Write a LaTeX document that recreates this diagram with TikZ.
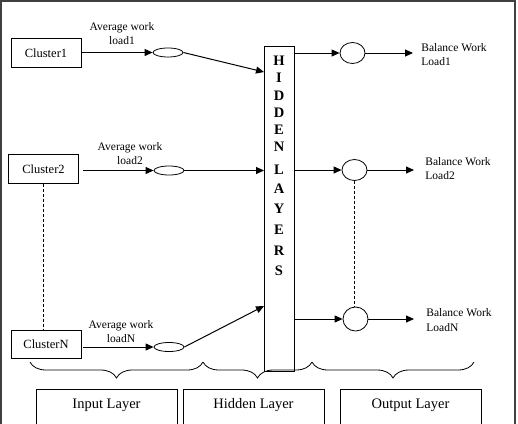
\documentclass[tikz,border=0pt]{standalone}
\usepackage{fontspec}
\setmainfont{Liberation Serif}
\usetikzlibrary{shapes.geometric,arrows.meta,decorations.pathreplacing}
\begin{document}
\begin{tikzpicture}[x=1pt,y=-1pt,line width=0.8pt,
  arr/.style={-{Triangle[length=8pt,width=7pt]},line width=1pt},
  clus/.style={draw,minimum width=70,minimum height=29,inner sep=0,font=\fontsize{12.5}{14}\selectfont},
  ov/.style={draw,ellipse,minimum width=30,minimum height=9,inner sep=0},
  circ/.style={draw,ellipse,minimum width=25,minimum height=21,inner sep=0},
  avg/.style={align=center,inner sep=0,font=\fontsize{11.5}{14}\selectfont},
  bal/.style={align=left,anchor=west,inner sep=0,font=\fontsize{11.5}{14.5}\selectfont},
  dots/.style={dash pattern=on 3pt off 2pt,line width=0.8pt},
  brc/.style={decorate,decoration={brace,mirror,amplitude=16}},
  layer/.style={inner sep=0,font=\fontsize{14.5}{16}\selectfont},
  hl/.style={inner sep=0,font=\bfseries\fontsize{14.5}{16}\selectfont}]
\useasboundingbox (0,0) rectangle (518,423);
\clip (0,0) rectangle (518,423);
% frame
\draw[line width=1.2pt,draw=black!75] (1,430) -- (1,1) -- (515,1) -- (515,430);
% clusters
\node[clus] (c1) at (46,53) {Cluster1};
\node[clus] (c2) at (43.5,169) {Cluster2};
\node[clus,minimum height=28] (cN) at (46,344.5) {ClusterN};
% ellipses
\node[ov] (e1) at (168,52.5) {};
\node[ov] (e2) at (169,170.5) {};
\node[ov] (eN) at (169,347) {};
\draw[arr] (c1.east |- e1) -- (e1.west);
\draw[arr,shorten <=4pt] (c2.east |- e2) -- (e2.west);
\draw[arr,shorten <=2pt] (cN.east |- eN) -- (eN.west);
\node[avg] (a1) at (122,34) {Average work\\load1};
\node[avg] (a2) at (130,153.5) {Average work\\load2};
\node[avg] (aN) at (121,331.5) {Average work\\loadN};
\draw[dots] (c2.south) -- (c2.south |- cN.north);
% hidden
\node[draw,minimum width=30,minimum height=325,inner sep=0] (hid) at (279,208.5) {};
\foreach \l/\y in {H/61,I/78,D/96,D/113,E/130,N/147,L/170,A/189,Y/209,E/230,R/251,S/271}
  \node[hl] (hl\y) at (279,\y) {\l};
\coordinate (h1) at (264,72);
\coordinate (h2) at (264,170.5);
\coordinate (hN) at (264,306);
\draw[arr] (e1.east) -- (h1);
\draw[arr] (e2.east) -- (h2);
\draw[arr] (eN.east) -- (hN);
% outputs
\node[circ] (o1) at (352.5,53) {};
\node[circ] (o2) at (354.5,170) {};
\node[circ,minimum height=24] (oN) at (355.5,319) {};
\draw[arr] (hid.east |- o1) -- (o1.west);
\draw[arr] (hid.east |- o2) -- (o2.west);
\draw[arr] (hid.east |- oN) -- (oN.west);
\coordinate (t1) at (413,53);
\coordinate (t2) at (414,170);
\coordinate (tN) at (414,319);
\draw[arr] (o1.east) -- (t1);
\draw[arr] (o2.east) -- (t2);
\draw[arr] (oN.east) -- (tN);
\node[bal] (b1) at (421,54.5) {Balance Work\\Load1};
\node[bal] (b2) at (425,168.5) {Balance Work\\Load2};
\node[bal] (bN) at (426,320) {Balance Work\\LoadN};
\draw[dots] (o2.south) -- (o2.south |- oN.north);
% braces
\draw[brc] (30,362) -- (203,362);
\draw[brc] (203,362) -- (312,362);
\draw[brc] (312,362) -- (474,362);
% layer boxes
\draw (36,430) -- (36,389) -- (177,389) -- (177,430);
\draw (183,430) -- (183,389) -- (324,389) -- (324,430);
\draw (340,430) -- (340,389) -- (481,389) -- (481,430);
\node[layer] (li) at (106.5,405) {Input Layer};
\node[layer] (lh) at (253.5,405) {Hidden Layer};
\node[layer] (lo) at (410.5,405) {Output Layer};
\end{tikzpicture}
\end{document}
